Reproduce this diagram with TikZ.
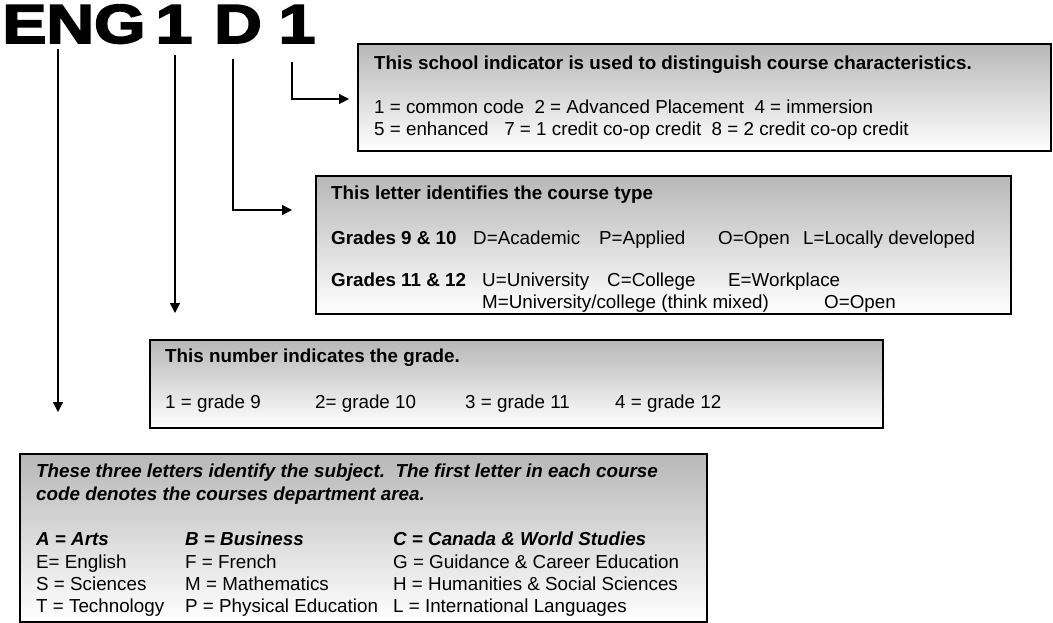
\documentclass[tikz,border=0pt]{standalone}
\usepackage{fontspec}
\usepackage{graphicx}
\setmainfont{Liberation Sans}
\newfontfamily\bigfont[FakeBold=3]{Liberation Sans Bold}
\usetikzlibrary{arrows.meta}

\begin{document}
\begin{tikzpicture}[x=1pt, y=-1pt,
  box/.style = {draw, line width=2pt, top color=black!28, bottom color=white, anchor=north west, inner sep=0pt},
  head/.style = {anchor=base west, inner sep=0pt, font=\fontsize{18.8}{22}\selectfont\bfseries},
  txt/.style = {anchor=base west, inner sep=0pt, font=\fontsize{18.8}{22}\selectfont},
  ital/.style = {head, font=\fontsize{18.8}{22}\selectfont\bfseries\itshape},
  code/.style = {anchor=base, inner sep=0pt, font=\fontsize{55}{55}\selectfont\bigfont},
  arr/.style = {line width=1.2pt, -{Triangle[length=10pt,width=10pt]}}]
\useasboundingbox (0,0) rectangle (1053,622);

% the course code
\node[code] (eng) at (74,43) {\scalebox{1.2}[1]{ENG}};
\node[code] (grade) at (174,43) {\scalebox{1.2}[1]{1}};
\node[code] (type) at (238,43) {\scalebox{1.2}[1]{D}};
\node[code] (school) at (297,43) {\scalebox{1.2}[1]{1}};

% boxes
\node[box, minimum width=693pt, minimum height=107pt] (sbox) at (357,43) {};
\node[box, minimum width=695pt, minimum height=138pt] (tbox) at (315,175) {};
\node[box, minimum width=733pt, minimum height=88pt] (gbox) at (149,339) {};
\node[box, minimum width=687pt, minimum height=168pt] (ebox) at (19,453) {};

% arrows
\coordinate (e1) at (58,412);
\coordinate (g1) at (175,313);
\coordinate (t1) at (292,210);
\coordinate (s1) at (349,99);
\draw[arr, shorten <=5pt] (eng.south -| e1) -- (e1);
\draw[arr, shorten <=12pt] (grade.south -| g1) -- (g1);
\draw[arr, shorten <=16pt] ([xshift=-5pt]type.south) |- (t1);
\draw[arr, shorten <=19pt] ([xshift=-5pt]school.south) |- (s1);

% school indicator
\node[head] (s0) at (374,69) {This school indicator is used to distinguish course characteristics.};
\node[txt] (s2) at (374,113) {1 = common code\ \ 2 = Advanced Placement\ \ 4 = immersion};
\node[txt] (s3) at (374,135) {5 = enhanced\ \ \ 7 = 1 credit co-op credit\ \ 8 = 2 credit co-op credit};

% course type
\node[head] (t0) at (331,199) {This letter identifies the course type};
\node[head] (t2) at (331,244) {Grades 9 \& 10};
\node[txt] (t2a) at (473,244) {D=Academic};
\node[txt] (t2b) at (599,244) {P=Applied};
\node[txt] (t2c) at (718,244) {O=Open};
\node[txt] (t2d) at (803,244) {L=Locally developed};
\node[head] (t3) at (331,286) {Grades 11 \& 12};
\node[txt] (t3a) at (482,286) {U=University};
\node[txt] (t3b) at (607,286) {C=College};
\node[txt] (t3c) at (728,286) {E=Workplace};
\node[txt] (t4a) at (482,308) {M=University/college (think mixed)};
\node[txt] (t4b) at (824,308) {O=Open};

% grade
\node[head] (g0) at (165,362) {This number indicates the grade.};
\node[txt] (g2a) at (165,408) {1 = grade 9};
\node[txt] (g2b) at (315,408) {2= grade 10};
\node[txt] (g2c) at (465,408) {3 = grade 11};
\node[txt] (g2d) at (615,408) {4 = grade 12};

% subject
\node[ital] (e0) at (36,477) {These three letters identify the subject.\ \ The first letter in each course};
\node[ital] (e0b) at (36,500) {code denotes the courses department area.};
\node[ital] (ea) at (36,545) {A = Arts};
\node[ital] (eb) at (185,545) {B = Business};
\node[ital] (ec) at (393,545) {C = Canada \& World Studies};
\node[txt] (ea1) at (36,568) {E= English};
\node[txt] (eb1) at (185,568) {F = French};
\node[txt] (ec1) at (393,568) {G = Guidance \& Career Education};
\node[txt] (ea2) at (36,590) {S = Sciences};
\node[txt] (eb2) at (185,590) {M = Mathematics};
\node[txt] (ec2) at (393,590) {H = Humanities \& Social Sciences};
\node[txt] (ea3) at (36,612) {T = Technology};
\node[txt] (eb3) at (185,612) {P = Physical Education};
\node[txt] (ec3) at (393,612) {L = International Languages};
\end{tikzpicture}
\end{document}
